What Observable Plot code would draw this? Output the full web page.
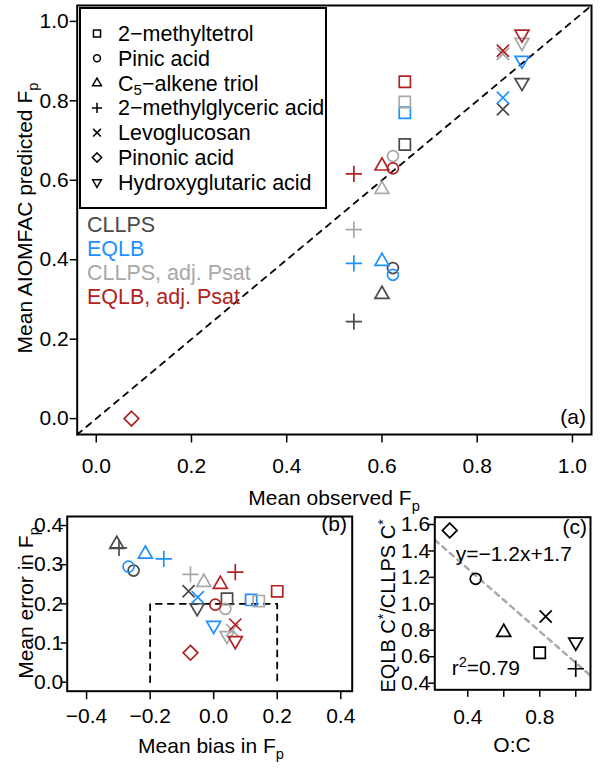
<!DOCTYPE html>
<html><head><meta charset="utf-8">
<script src="https://cdn.jsdelivr.net/npm/d3@7"></script>
<script src="https://cdn.jsdelivr.net/npm/@observablehq/plot@0.6"></script>
<style>
html,body{margin:0;padding:0;background:#fff;}
#root{position:relative;width:600px;height:772px;overflow:hidden;background:#fff;}
#root svg{position:absolute;overflow:visible;}
</style></head>
<body><div id="root"></div>
<script>
// ---------------- data ----------------
const compounds = ["2-methyltetrol","Pinic acid","C5-alkene triol","2-methylglyceric acid","Levoglucosan","Pinonic acid","Hydroxyglutaric acid"];
const compoundLegendParts = [
  [["2−methyltetrol","n"]],
  [["Pinic acid","n"]],
  [["C","n"],["5","sub"],["−alkene triol","n"]],
  [["2−methylglyceric acid","n"]],
  [["Levoglucosan","n"]],
  [["Pinonic acid","n"]],
  [["Hydroxyglutaric acid","n"]]
];
const methods = ["CLLPS","EQLB","CLLPS, adj. Psat","EQLB, adj. Psat"];
const methodColors = ["#4a4a4a","#1e90ff","#a8a8a8","#b22222"];

// (a) observed vs predicted Fp
const observedFp   = [0.648, 0.623, 0.600, 0.541, 0.854, 0.074, 0.894];
const predCLLPS    = [0.690, 0.379, 0.313, 0.244, 0.779, null, 0.846];
const predEQLB     = [0.770, 0.362, 0.396, 0.391, 0.808, null, 0.902];
const predCLLPSadj = [0.797, 0.661, 0.577, 0.476, 0.918, null, 0.947];
const predEQLBadj  = [0.848, 0.630, 0.636, 0.616, 0.926, 0.000, 0.968];

// (b) bias / error
const biasCLLPS    = [0.042, -0.252, -0.305, -0.298, -0.079, null, -0.052];
const biasEQLB     = [0.118, -0.268, -0.215, -0.157, -0.050, null,  0.000];
const biasCLLPSadj = [0.142,  0.037, -0.031, -0.073,  0.058, null,  0.042];
const biasEQLBadj  = [0.200,  0.005,  0.021,  0.068,  0.068, -0.073, 0.068];
const errCLLPS     = [0.213, 0.285, 0.352, 0.343, 0.232, null, 0.190];
const errEQLB      = [0.210, 0.295, 0.327, 0.315, 0.217, null, 0.145];
const errCLLPSadj  = [0.207, 0.187, 0.255, 0.275, 0.133, null, 0.119];
const errEQLBadj   = [0.232, 0.198, 0.250, 0.281, 0.147, 0.075, 0.106];
const targetBias = 0.2, targetError = 0.2;

// (c) O:C vs C* ratio
const oxygenToCarbon = [0.800, 0.444, 0.600, 1.000, 0.833, 0.300, 1.000];
const cStarRatio     = [0.630, 1.189, 0.785, 0.509, 0.904, 1.555, 0.710];

// ticks
const ticksA  = [0, 0.2, 0.4, 0.6, 0.8, 1.0];
const ticksBx = [-0.4, -0.2, 0, 0.2, 0.4];
const ticksBy = [0, 0.1, 0.2, 0.3, 0.4];
const ticksCx = [0.4, 0.6, 0.8, 1.0];
const ticksCxLabels = ["0.4", "", "0.8", ""];
const ticksCy = [0.4, 0.6, 0.8, 1.0, 1.2, 1.4, 1.6];

// domains
const domainA = [-0.04, 1.04];
const domainBx = [-0.461, 0.436], domainBy = [-0.023, 0.423];
const domainCx = [0.217, 1.082], domainCy = [0.35, 1.655];

// ---------------- symbols (R pch 0..6 look) ----------------
const rad = s => Math.sqrt(s / Math.PI);
const symSquare = {draw(c, s){ const r = rad(s)*0.98; c.moveTo(-r,-r); c.lineTo(r,-r); c.lineTo(r,r); c.lineTo(-r,r); c.closePath(); }};
const symCircle = {draw(c, s){ const r = rad(s)*0.96; c.moveTo(r,0); c.arc(0,0,r,0,2*Math.PI); c.closePath(); }};
const symTri = dir => ({draw(c, s){ const R = rad(s)*0.91; const t = 1.555*R, b = 0.778*R, h = 1.347*R;
  c.moveTo(0,-t*dir); c.lineTo(h,b*dir); c.lineTo(-h,b*dir); c.closePath(); }});
const symPlus = {draw(c, s){ const r = rad(s)*1.43; c.moveTo(-r,0); c.lineTo(r,0); c.moveTo(0,-r); c.lineTo(0,r); }};
const symTimes = {draw(c, s){ const r = rad(s)*1.07; c.moveTo(-r,-r); c.lineTo(r,r); c.moveTo(-r,r); c.lineTo(r,-r); }};
const symDiamond = {draw(c, s){ const r = rad(s)*1.29; c.moveTo(0,-r); c.lineTo(r,0); c.lineTo(0,r); c.lineTo(-r,0); c.closePath(); }};
const compoundSymbols = [symSquare, symCircle, symTri(1), symPlus, symTimes, symDiamond, symTri(-1)];

const FONT = "'Liberation Sans', Arial, Helvetica, sans-serif";
const DOT_R = 5.7, DOT_W = 1.7, TICK_FS = 21;

function dotMarks(getX, getY, colorFor) {
  const out = [];
  methods.forEach((m, mi) => compounds.forEach((c, ci) => {
    const x = getX(mi, ci), y = getY(mi, ci);
    if (x == null || y == null) return;
    out.push(Plot.dot([{x, y}], {x: "x", y: "y", r: DOT_R, symbol: compoundSymbols[ci],
      stroke: colorFor(mi), strokeWidth: DOT_W, fill: "none"}));
  }));
  return out;
}
const baseStyle = {fontFamily: FONT, background: "transparent", overflow: "visible", color: "black"};
const fmt1 = d3.format(".1f");

// ---------------- panel (a) ----------------
const preds = [predCLLPS, predEQLB, predCLLPSadj, predEQLBadj];
const svgA = Plot.plot({
  width: 600, height: 520,
  marginLeft: 76.7, marginRight: 9, marginTop: 5, marginBottom: 86,
  style: baseStyle,
  x: {domain: domainA}, y: {domain: domainA},
  marks: [
    Plot.line(domainA, {x: d => d, y: d => d, stroke: "black", strokeWidth: 1.8, strokeDasharray: "6,6"}),
    ...dotMarks((mi, ci) => preds[mi][ci] == null ? null : observedFp[ci], (mi, ci) => preds[mi][ci], mi => methodColors[mi]),
    Plot.frame({stroke: "black", strokeWidth: 2}),
    Plot.axisX({ticks: ticksA, tickFormat: fmt1, tickSize: 8.5, tickPadding: 15.5, fontSize: TICK_FS, label: null, strokeWidth: 1.5}),
    Plot.axisY({ticks: ticksA, tickFormat: fmt1, tickSize: 7, tickPadding: 1.5, fontSize: TICK_FS, label: null, strokeWidth: 1.5})
  ]
});

// ---------------- panel (b) ----------------
const biases = [biasCLLPS, biasEQLB, biasCLLPSadj, biasEQLBadj];
const errors = [errCLLPS, errEQLB, errCLLPSadj, errEQLBadj];
const targetBox = [
  {x: -targetBias, y: 0}, {x: -targetBias, y: targetError},
  {x: targetBias, y: targetError}, {x: targetBias, y: 0}
];
const svgB = Plot.plot({
  width: 380, height: 267,
  marginLeft: 66.7, marginRight: 28.3, marginTop: 11, marginBottom: 81.3,
  style: baseStyle,
  x: {domain: domainBx}, y: {domain: domainBy},
  marks: [
    Plot.line(targetBox, {x: "x", y: "y", stroke: "black", strokeWidth: 1.8, strokeDasharray: "6,6"}),
    ...dotMarks((mi, ci) => biases[mi][ci], (mi, ci) => errors[mi][ci], mi => methodColors[mi]),
    Plot.frame({stroke: "black", strokeWidth: 2}),
    Plot.axisX({ticks: ticksBx, tickFormat: fmt1, tickSize: 8.5, tickPadding: 8.5, fontSize: TICK_FS, label: null, strokeWidth: 1.5}),
    Plot.axisY({ticks: ticksBy, tickFormat: fmt1, tickSize: 6, tickPadding: -2, fontSize: TICK_FS, label: null, strokeWidth: 1.5})
  ]
});

// ---------------- panel (c) ----------------
const n = oxygenToCarbon.length;
const mx = d3.mean(oxygenToCarbon), my = d3.mean(cStarRatio);
let sxy = 0, sxx = 0, syy = 0;
for (let i = 0; i < n; i++) {
  const dx = oxygenToCarbon[i] - mx, dy = cStarRatio[i] - my;
  sxy += dx*dy; sxx += dx*dx; syy += dy*dy;
}
const slope = sxy / sxx, intercept = my - slope * mx, r2 = sxy*sxy/(sxx*syy);
const fitLine = domainCx.map(x => ({x, y: intercept + slope * x}));
const svgC = Plot.plot({
  width: 220, height: 267,
  marginLeft: 54.3, marginRight: 10, marginTop: 11.7, marginBottom: 82.7,
  style: baseStyle,
  x: {domain: domainCx}, y: {domain: domainCy},
  marks: [
    Plot.line(fitLine, {x: "x", y: "y", stroke: "#aaaaaa", strokeWidth: 2.5, strokeDasharray: "5,5", clip: true}),
    ...compounds.map((c, ci) => Plot.dot([{x: oxygenToCarbon[ci], y: cStarRatio[ci]}],
      {x: "x", y: "y", r: DOT_R, symbol: compoundSymbols[ci], stroke: "black", strokeWidth: DOT_W, fill: "none"})),
    Plot.frame({stroke: "black", strokeWidth: 2}),
    Plot.axisX({ticks: ticksCx, tickFormat: d => ticksCxLabels[ticksCx.indexOf(d)], tickSize: 7.5, tickPadding: 11.5, fontSize: TICK_FS, label: null, strokeWidth: 1.5}),
    Plot.axisY({ticks: ticksCy, tickFormat: fmt1, tickSize: 6, tickPadding: -1.5, fontSize: TICK_FS, label: null, strokeWidth: 1.5})
  ]
});

const root = document.getElementById("root");
[[svgA, 0, 0], [svgB, 0, 505], [svgC, 380, 505]].forEach(([s, l, t]) => {
  s.style.left = l + "px"; s.style.top = t + "px"; root.appendChild(s);
});

// ---------------- overlay: titles, legend, annotations ----------------
const ov = d3.select(root).append("svg")
  .attr("width", 600).attr("height", 772)
  .style("left", "0px").style("top", "0px").style("pointer-events", "none")
  .attr("font-family", FONT);

function rich(parent, x, y, parts, opt = {}) {
  const size = opt.size || 21;
  const t = parent.append("text").attr("font-size", size)
    .attr("fill", opt.fill || "black").attr("text-anchor", opt.anchor || "start");
  if (opt.rotate) t.attr("transform", `translate(${x},${y}) rotate(-90)`);
  else t.attr("x", x).attr("y", y);
  let shift = 0;
  const subShift = opt.subShift || 6, supShift = opt.supShift || -8;
  parts.forEach(([str, kind]) => {
    const sp = t.append("tspan").text(str);
    let target = 0;
    if (kind === "sub") { target = subShift; sp.attr("font-size", size * 0.7); }
    if (kind === "sup") { target = supShift; sp.attr("font-size", size * 0.7); }
    if (target - shift !== 0) sp.attr("dy", target - shift);
    shift = target;
  });
  return t;
}

// axis titles
rich(ov, 334, 505, [["Mean observed F","n"],["p","sub"]], {anchor: "middle"});
rich(ov, 31.7, 218, [["Mean AIOMFAC predicted F","n"],["p","sub"]], {anchor: "middle", rotate: true});
rich(ov, 211, 753, [["Mean bias in F","n"],["p","sub"]], {anchor: "middle"});
rich(ov, 33.3, 603, [["Mean error in F","n"],["p","sub"]], {anchor: "middle", rotate: true});
rich(ov, 512, 752, [["O:C","n"]], {anchor: "middle"});
rich(ov, 395, 606, [["EQLB C","n"],["*","sup"],["/CLLPS C","n"],["*","sup"]], {anchor: "middle", rotate: true, size: 20, supShift: -7});

// panel letters
rich(ov, 586, 424, [["(a)","n"]], {anchor: "end"});
rich(ov, 347, 531, [["(b)","n"]], {anchor: "end"});
rich(ov, 587, 534, [["(c)","n"]], {anchor: "end"});

// regression annotation
const fmtSigned = v => (v < 0 ? "−" : "") + Math.abs(v).toFixed(1);
rich(ov, 513.8, 561, [[`y=${fmtSigned(slope)}x+${fmtSigned(intercept)}`,"n"]], {anchor: "middle"});
rich(ov, 451.7, 675, [["r","n"],["2","sup"],["=" + r2.toFixed(2),"n"]], {anchor: "start"});

// legend box
ov.append("rect").attr("x", 80).attr("y", 8).attr("width", 246).attr("height", 200)
  .attr("fill", "white").attr("stroke", "black").attr("stroke-width", 2);
compounds.forEach((c, i) => {
  const yy = 33.5 + i * 24.8;
  ov.append("path").attr("d", d3.symbol(compoundSymbols[i], Math.PI * 3.6 * 3.6)())
    .attr("transform", `translate(97,${yy})`)
    .attr("fill", "none").attr("stroke", "black").attr("stroke-width", 1.5);
  rich(ov, 118, yy + 7.5, compoundLegendParts[i], {size: 21.5, subShift: 4});
});
methods.forEach((m, i) => {
  rich(ov, 87, 224.5 + i * 24.1 + 7.5, [[m,"n"]], {size: 21.5, fill: methodColors[i]});
});
</script>
</body></html>
